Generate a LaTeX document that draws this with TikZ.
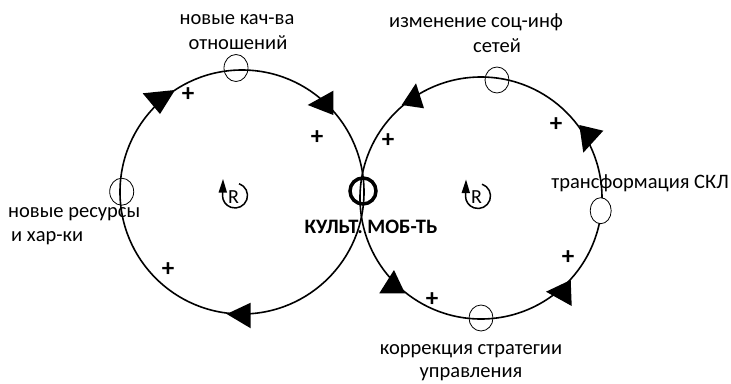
\documentclass[tikz,border=0pt]{standalone}
\usepackage{fontspec}
\setmainfont{Carlito}
\usetikzlibrary{shapes.geometric}
\begin{document}
\begin{tikzpicture}[x=1pt,y=-1pt,
  loopline/.style={line width=1.6pt},
  var/.style={ellipse, draw, line width=0.8pt, minimum width=24pt, minimum height=27pt, inner sep=0pt},
  lbl/.style={font=\fontsize{20.5}{24}\selectfont, inner sep=0pt},
  pl/.style={font=\fontsize{25}{25}\selectfont\bfseries, inner sep=0pt},
  rsym/.pic={
    \draw[line width=1.5pt] (-71:12.5) arc[start angle=-71, end angle=180, radius=12.5] -- (-12.5,-4);
    \fill (-16.5,-3) -- (-12,-16.5) -- (-8,-3) -- cycle;
    \node[font=\fontsize{20}{20}\selectfont, inner sep=0pt] at (-1.5,1.5) {R};
  }]
\useasboundingbox (0,0) rectangle (731,383);
% loops
\draw[loopline] (242,192) circle[radius=122];
\draw[loopline] (481,198) circle[radius=121];
% variables
\node[var] (v1) at (236,68) {};
\node[var, minimum width=24pt, minimum height=26pt] (v2) at (497,80) {};
\node[var] (v3) at (121.7,191.7) {};
\node[var, fill=white, minimum width=21pt, minimum height=26pt] (v4) at (600.7,210.7) {};
\node[var, minimum width=24pt, minimum height=26pt] (v5) at (481,318) {};
\node[circle, draw, line width=3.5pt, minimum size=26pt, inner sep=0pt] (c) at (363,191) {};
% arrowheads
\fill (142.7,93.3) -- (175,90) -- (160,114) -- cycle;
\fill (307.7,105) -- (333.3,90.7) -- (333.3,115) -- cycle;
\fill (226.7,314) -- (250.7,302.7) -- (250.7,328.3) -- cycle;
\fill (416,83.3) -- (401.7,105) -- (424,108.3) -- cycle;
\fill (579.3,125) -- (603.3,130.7) -- (583.3,152.7) -- cycle;
\fill (546,291.7) -- (570.7,280) -- (571.7,306) -- cycle;
\fill (394,270) -- (379.3,293.3) -- (405,293.3) -- cycle;
% loop symbols
\pic at (235,195.5) {rsym};
\pic at (478,196) {rsym};
% polarities
\node[pl] (p1) at (188,95) {+};
\node[pl] (p2) at (317,138) {+};
\node[pl] (p3) at (168,270) {+};
\node[pl] (p4) at (388,141) {+};
\node[pl] (p5) at (556,125) {+};
\node[pl] (p6) at (568,258) {+};
\node[pl] (p7) at (432,300) {+};
% labels
\node[lbl] (t1a) at (237,20) {новые кач-ва};
\node[lbl] (t1b) at (238,43) {отношений};
\node[lbl] (t2a) at (476,22) {изменение соц-инф};
\node[lbl] (t2b) at (497,46) {сетей};
\node[lbl, anchor=east] (t3) at (729,183) {трансформация СКЛ};
\node[lbl, anchor=west] (t4a) at (8,214) {новые ресурсы};
\node[lbl, anchor=west] (t4b) at (11,238) {и хар-ки};
\node[lbl] (t5a) at (471,351) {коррекция стратегии};
\node[lbl] (t5b) at (471,374) {управления};
\node[lbl, font=\fontsize{20.5}{24}\selectfont\bfseries] (tc) at (371,227) {КУЛЬТ. МОБ-ТЬ};
\end{tikzpicture}
\end{document}
